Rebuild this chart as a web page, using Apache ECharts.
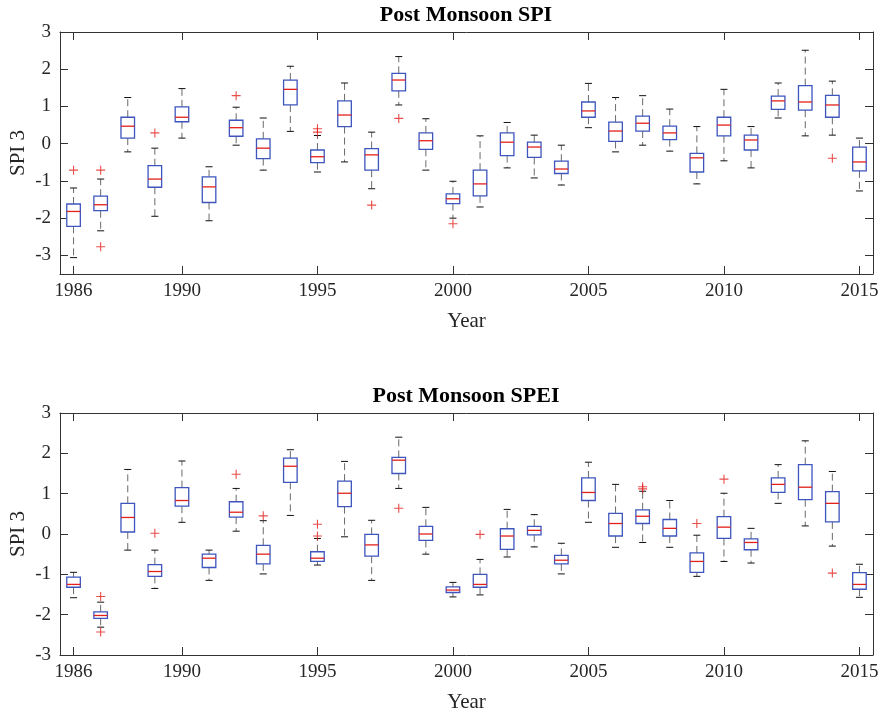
<!DOCTYPE html>
<html>
<head>
<meta charset="utf-8">
<script src="https://cdn.jsdelivr.net/npm/echarts@6/dist/echarts.min.js"></script>
<style>
    html, body { margin: 0; padding: 0; background: #fff; }
    #chart { width: 884px; height: 714px; }
</style>
</head>
<body>
<div id="chart"></div>
<script>
const years = [1986, 1987, 1988, 1989, 1990, 1991, 1992, 1993, 1994, 1995,
    1996, 1997, 1998, 1999, 2000, 2001, 2002, 2003, 2004, 2005,
    2006, 2007, 2008, 2009, 2010, 2011, 2012, 2013, 2014, 2015];
const tickYears = [1986, 1990, 1995, 2000, 2005, 2010, 2015];
const yTicks = [-3, -2, -1, 0, 1, 2, 3];

// Post Monsoon SPI
const spiLow = [-3.06, -2.34, -0.22, -1.95, 0.15, -2.07, -0.04, -0.71, 0.33, -0.76,
    -0.49, -1.21, 1.04, -0.71, -2.00, -1.70, -0.65, -0.92, -1.11, 0.43,
    -0.22, -0.04, -0.20, -1.08, -0.46, -0.65, 0.69, 0.21, 0.23, -1.27];
const spiQ1 = [-2.22, -1.80, 0.15, -1.17, 0.59, -1.58, 0.20, -0.40, 1.04, -0.51,
    0.46, -0.71, 1.42, -0.15, -1.61, -1.40, -0.32, -0.37, -0.80, 0.71,
    0.06, 0.34, 0.11, -0.76, 0.21, -0.17, 0.92, 0.90, 0.71, -0.73];
const spiMedian = [-1.82, -1.64, 0.47, -0.95, 0.71, -1.16, 0.43, -0.12, 1.46, -0.35,
    0.77, -0.30, 1.71, 0.08, -1.48, -1.08, 0.04, -0.09, -0.68, 0.88,
    0.34, 0.55, 0.29, -0.38, 0.50, 0.10, 1.15, 1.12, 1.04, -0.49];
const spiQ3 = [-1.62, -1.41, 0.71, -0.59, 0.99, -0.89, 0.63, 0.13, 1.71, -0.17,
    1.15, -0.13, 1.89, 0.29, -1.35, -0.71, 0.29, 0.04, -0.47, 1.12,
    0.58, 0.74, 0.47, -0.26, 0.71, 0.23, 1.28, 1.56, 1.30, -0.09];
const spiHigh = [-1.19, -0.95, 1.24, -0.12, 1.48, -0.62, 0.98, 0.69, 2.08, 0.22,
    1.63, 0.31, 2.34, 0.67, -1.01, 0.21, 0.57, 0.23, -0.04, 1.62,
    1.24, 1.29, 0.93, 0.46, 1.46, 0.46, 1.63, 2.51, 1.68, 0.15];
const spiOutliers = [[1986, -0.71], [1987, -0.71], [1987, -2.77], [1989, 0.29],
    [1992, 1.29], [1995, 0.40], [1995, 0.31], [1997, -1.65], [1998, 0.68],
    [2000, -2.15], [2014, -0.39]];

// Post Monsoon SPEI
const speiLow = [-1.58, -2.31, -0.40, -1.35, 0.29, -1.15, 0.07, -0.99, 0.46, -0.77,
    -0.07, -1.15, 1.13, -0.50, -1.56, -1.51, -0.57, -0.32, -0.99, 0.29,
    -0.33, -0.21, -0.33, -1.05, -0.68, -0.72, 0.76, 0.20, -0.30, -1.57];
const speiQ1 = [-1.32, -2.09, 0.05, -1.05, 0.69, -0.83, 0.42, -0.74, 1.28, -0.68,
    0.68, -0.55, 1.50, -0.16, -1.45, -1.32, -0.38, -0.02, -0.74, 0.83,
    -0.05, 0.26, -0.05, -0.95, -0.11, -0.39, 1.03, 0.85, 0.30, -1.37];
const speiMedian = [-1.25, -2.02, 0.41, -0.93, 0.83, -0.60, 0.54, -0.50, 1.68, -0.60,
    1.01, -0.27, 1.83, 0.00, -1.39, -1.25, -0.05, 0.09, -0.65, 1.03,
    0.26, 0.44, 0.14, -0.68, 0.17, -0.21, 1.23, 1.16, 0.76, -1.25];
const speiQ3 = [-1.07, -1.93, 0.76, -0.76, 1.15, -0.50, 0.80, -0.28, 1.88, -0.44,
    1.31, -0.01, 1.90, 0.19, -1.31, -1.00, 0.13, 0.19, -0.53, 1.39,
    0.51, 0.60, 0.36, -0.47, 0.43, -0.12, 1.39, 1.72, 1.05, -0.96];
const speiHigh = [-0.95, -1.69, 1.60, -0.40, 1.81, -0.40, 1.13, 0.33, 2.09, -0.11,
    1.80, 0.34, 2.40, 0.66, -1.20, -0.63, 0.61, 0.48, -0.23, 1.78,
    1.23, 1.06, 0.83, -0.03, 1.01, 0.14, 1.72, 2.31, 1.55, -0.75];
const speiOutliers = [[1987, -1.55], [1987, -2.43], [1989, 0.02], [1992, 1.48],
    [1993, 0.45], [1995, 0.24], [1995, -0.05], [1998, 0.64], [2001, -0.01],
    [2007, 1.17], [2007, 1.12], [2009, 0.26], [2010, 1.36], [2014, -0.97]];

const fontFamily = '"Liberation Serif", "Times New Roman", serif';
const textColor = '#262626';
const axisColor = '#333';

function boxRows(low, q1, median, q3, high) {
    return years.map((year, i) => [year, low[i], q1[i], median[i], q3[i], high[i]]);
}

function renderBox(params, api) {
    const x = api.value(0);
    const lo = api.coord([x, api.value(1)]);
    const q1 = api.coord([x, api.value(2)]);
    const med = api.coord([x, api.value(3)]);
    const q3 = api.coord([x, api.value(4)]);
    const hi = api.coord([x, api.value(5)]);
    const band = api.size([1, 0])[0];
    const boxW = band * 0.5;
    const capW = band * 0.26;
    const cx = lo[0];
    const dashStyle = { stroke: '#6a6a6a', lineWidth: 1, lineDash: [7, 4] };
    const capStyle = { stroke: '#111', lineWidth: 1 };
    return {
        type: 'group',
        children: [
            { type: 'line', shape: { x1: cx, y1: q3[1], x2: cx, y2: hi[1] }, style: dashStyle },
            { type: 'line', shape: { x1: cx, y1: q1[1], x2: cx, y2: lo[1] }, style: dashStyle },
            { type: 'line', shape: { x1: cx - capW / 2, y1: hi[1], x2: cx + capW / 2, y2: hi[1] }, style: capStyle },
            { type: 'line', shape: { x1: cx - capW / 2, y1: lo[1], x2: cx + capW / 2, y2: lo[1] }, style: capStyle },
            {
                type: 'rect',
                shape: { x: cx - boxW / 2, y: q3[1], width: boxW, height: q1[1] - q3[1] },
                style: { fill: '#fff', stroke: '#3d55bd', lineWidth: 1.3 }
            },
            { type: 'line', shape: { x1: cx - boxW / 2, y1: med[1], x2: cx + boxW / 2, y2: med[1] }, style: { stroke: '#e3211b', lineWidth: 1.3 } }
        ]
    };
}

function xAxisFor(gridIndex, top) {
    return {
        type: 'value',
        gridIndex: gridIndex,
        position: top ? 'top' : 'bottom',
        min: 1985.5,
        max: 2015.5,
        name: top ? '' : 'Year',
        nameLocation: 'middle',
        nameGap: 37,
        nameTextStyle: { fontFamily: fontFamily, fontSize: 21, color: textColor },
        axisLine: { show: true, onZero: false, lineStyle: { color: axisColor, width: 1 } },
        axisTick: { show: true, inside: true, length: 8, customValues: tickYears, lineStyle: { color: axisColor } },
        axisLabel: {
            show: !top,
            customValues: tickYears,
            formatter: (v) => String(v),
            margin: 8,
            fontFamily: fontFamily,
            fontSize: 19,
            color: textColor
        },
        splitLine: { show: false }
    };
}

function yAxisFor(gridIndex, min, right) {
    return {
        type: 'value',
        gridIndex: gridIndex,
        position: right ? 'right' : 'left',
        min: min,
        max: 3,
        name: right ? '' : 'SPI 3',
        nameLocation: 'middle',
        nameGap: 31,
        nameMoveOverlap: false,
        nameTextStyle: { fontFamily: fontFamily, fontSize: 21, color: textColor },
        axisLine: { show: true, onZero: false, lineStyle: { color: axisColor, width: 1 } },
        axisTick: { show: true, inside: true, length: 8, customValues: yTicks, lineStyle: { color: axisColor } },
        axisLabel: {
            show: !right,
            customValues: yTicks,
            margin: 9,
            fontFamily: fontFamily,
            fontSize: 19,
            color: textColor
        },
        splitLine: { show: false }
    };
}

function outlierSeries(data, axisIndex) {
    return {
        type: 'scatter',
        xAxisIndex: axisIndex,
        yAxisIndex: axisIndex,
        data: data,
        symbol: 'path://M0,5L10,5M5,0L5,10',
        symbolSize: 9,
        itemStyle: { color: 'none', borderColor: '#e3211b', borderWidth: 1.1 },
        z: 5,
        silent: true
    };
}

const chart = echarts.init(document.getElementById('chart'));

chart.setOption({
    animation: false,
    backgroundColor: '#fff',
    title: [
        {
            text: 'Post Monsoon SPI',
            left: 466,
            top: 4,
            padding: 0,
            textAlign: 'center',
            textStyle: { fontFamily: fontFamily, fontSize: 22, fontWeight: 'bold', color: '#000' }
        },
        {
            text: 'Post Monsoon SPEI',
            left: 466,
            top: 385,
            padding: 0,
            textAlign: 'center',
            textStyle: { fontFamily: fontFamily, fontSize: 22, fontWeight: 'bold', color: '#000' }
        }
    ],
    grid: [
        { left: 60, width: 813, top: 32, height: 242, containLabel: false, outerBoundsMode: 'none' },
        { left: 60, width: 813, top: 413, height: 242, containLabel: false, outerBoundsMode: 'none' }
    ],
    xAxis: [
        xAxisFor(0, false),
        xAxisFor(1, false),
        xAxisFor(0, true),
        xAxisFor(1, true)
    ],
    yAxis: [
        yAxisFor(0, -3.5, false),
        yAxisFor(1, -3, false),
        yAxisFor(0, -3.5, true),
        yAxisFor(1, -3, true)
    ],
    series: [
        {
            type: 'custom',
            xAxisIndex: 0,
            yAxisIndex: 0,
            renderItem: renderBox,
            encode: { x: 0, y: [1, 2, 3, 4, 5] },
            data: boxRows(spiLow, spiQ1, spiMedian, spiQ3, spiHigh),
            silent: true
        },
        {
            type: 'custom',
            xAxisIndex: 1,
            yAxisIndex: 1,
            renderItem: renderBox,
            encode: { x: 0, y: [1, 2, 3, 4, 5] },
            data: boxRows(speiLow, speiQ1, speiMedian, speiQ3, speiHigh),
            silent: true
        },
        outlierSeries(spiOutliers, 0),
        outlierSeries(speiOutliers, 1)
    ]
});
</script>
</body>
</html>
